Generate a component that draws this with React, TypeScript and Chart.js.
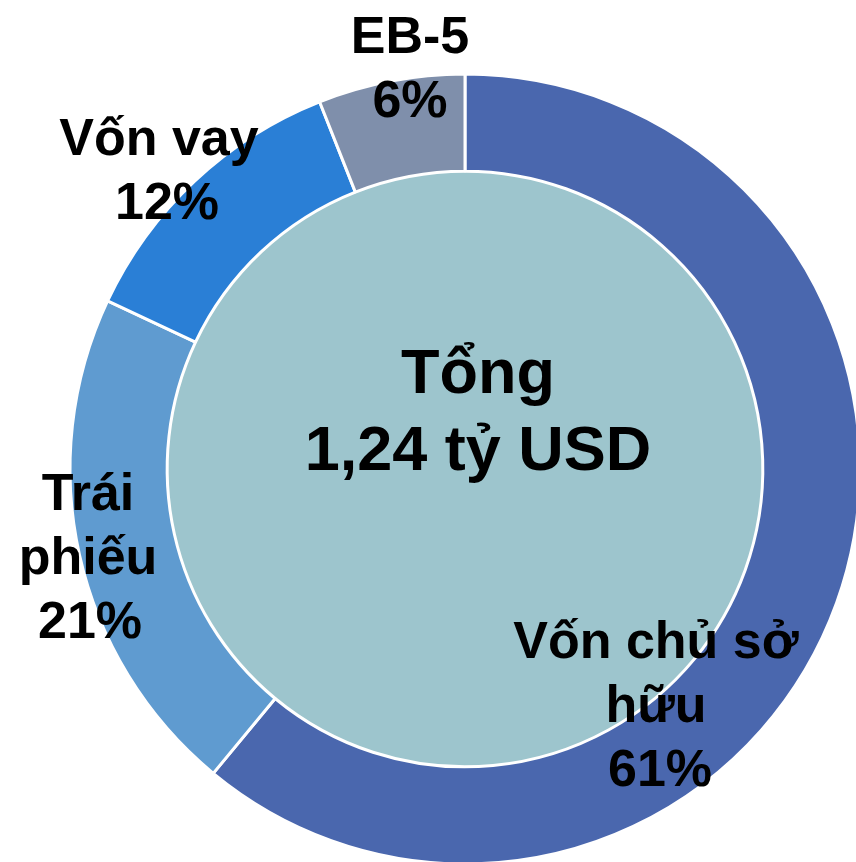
import React, { useEffect, useRef } from "react";
import { Chart, registerables } from "chart.js";

Chart.register(...registerables);

const categories: string[][] = [["Vốn chủ sở", "hữu"], ["Trái", "phiếu"], ["Vốn vay"], ["EB-5"]];
const shares: number[] = [61, 21, 12, 6];
const sliceColors: string[] = ["#4A67AE", "#5F9BD0", "#2A7FD6", "#7F8FAB"];
const centerLines: string[] = ["Tổng", "1,24 tỷ USD"];

const FONT = '"Liberation Sans", Arial, sans-serif';

const labelPlugin = {
  id: "ringLabels",
  beforeDatasetsDraw(chart: any, _args: any, opts: any) {
    const meta = chart.getDatasetMeta(0);
    const arc = meta.data[0];
    if (!arc) return;
    const { x, y, innerRadius } = arc.getProps(["x", "y", "innerRadius"], true);
    const ctx = chart.ctx;
    ctx.save();
    ctx.beginPath();
    ctx.arc(x, y, innerRadius, 0, Math.PI * 2);
    ctx.fillStyle = opts.fill;
    ctx.fill();
    ctx.restore();
  },
  afterDatasetsDraw(chart: any, _args: any, opts: any) {
    const meta = chart.getDatasetMeta(0);
    const arc = meta.data[0];
    if (!arc) return;
    const { x, y } = arc.getProps(["x", "y"], true);
    const ctx = chart.ctx;
    ctx.save();
    ctx.fillStyle = "#000";
    ctx.textAlign = "center";
    ctx.textBaseline = "alphabetic";
    ctx.font = `bold ${opts.labelSize}px ${FONT}`;
    const labels = chart.data.labels as string[][];
    const values = chart.data.datasets[0].data as number[];
    labels.forEach((lines, i) => {
      const [dx, dy, pdx] = opts.offsets[i];
      const all = [...lines, `${values[i]}%`];
      all.forEach((t, j) => {
        const extra = j === all.length - 1 ? pdx : 0;
        ctx.fillText(t, x + dx + extra, y + dy + j * opts.lineHeight);
      });
    });
    ctx.font = `bold ${opts.centerSize}px ${FONT}`;
    opts.center.forEach((t: string, j: number) => {
      ctx.fillText(t, x + opts.centerDx, y + opts.centerDy + j * opts.centerLineHeight);
    });
    ctx.restore();
  },
};

export default function App() {
  const ref = useRef<HTMLCanvasElement>(null);
  useEffect(() => {
    if (!ref.current) return;
    const chart = new Chart(ref.current, {
      type: "doughnut",
      data: {
        labels: categories as any,
        datasets: [
          {
            data: shares,
            backgroundColor: sliceColors,
            borderColor: "#FFFFFF",
            borderWidth: 3,
          },
        ],
      },
      options: {
        responsive: false,
        animation: false,
        radius: 395,
        cutout: "75.4%",
        layout: { padding: 0 },
        plugins: {
          legend: { display: false },
          tooltip: { enabled: false },
          ringLabels: {
            fill: "#9DC5CD",
            labelSize: 52,
            lineHeight: 64,
            offsets: [
              [191, 189, 4],
              [-377, 41, 2],
              [-306, -314, 8],
              [-55, -416, 0],
            ],
            center: centerLines,
            centerSize: 63,
            centerDx: 13,
            centerDy: -76,
            centerLineHeight: 77,
          },
        } as any,
      },
      plugins: [labelPlugin],
    });
    return () => chart.destroy();
  }, []);
  return (
    <div
      style={{
        position: "fixed",
        left: 0,
        top: 0,
        width: 856,
        height: 862,
        overflow: "hidden",
        background: "#fff",
      }}
    >
      <canvas ref={ref} width={930} height={938} style={{ display: "block" }} />
    </div>
  );
}
